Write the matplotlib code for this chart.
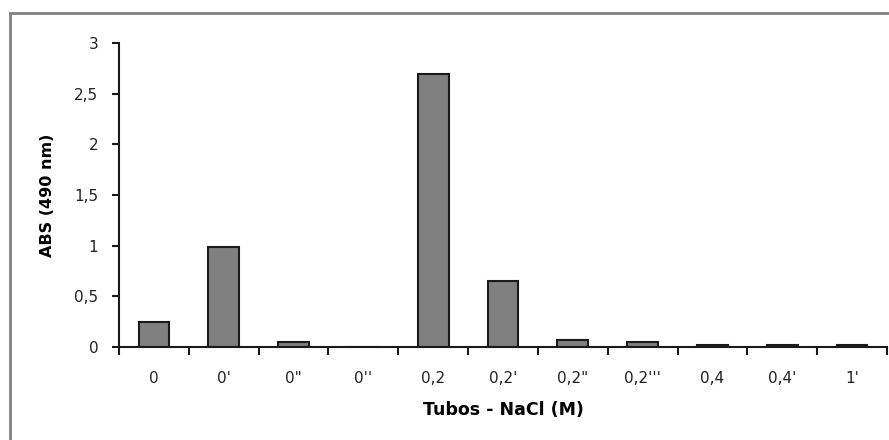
# -*- coding: utf-8 -*-

import matplotlib
matplotlib.use('Agg')
import matplotlib.pyplot as plt
from matplotlib.patches import Rectangle

plt.rcParams['font.family'] = ['DejaVu Sans']

tubos = ['0', "0'", '0"', "0''", '0,2', "0,2'", '0,2"', "0,2'''", '0,4', "0,4'", "1'"]
abs_490 = [0.25, 0.99, 0.05, 0.0, 2.69, 0.65, 0.07, 0.05, 0.02, 0.02, 0.02]
yticks = [0, 0.5, 1, 1.5, 2, 2.5, 3]
ytick_labels = ['0', '0,5', '1', '1,5', '2', '2,5', '3']

fig = plt.figure(figsize=(8.89, 4.4), dpi=100)
fig.patches.append(Rectangle((10 / 889, -0.1), 1.2, 1.1 - 13 / 440,
                             transform=fig.transFigure, fill=False,
                             edgecolor='#808080', linewidth=2, zorder=0))

ax1 = fig.add_axes([119 / 889, 93 / 440, 768 / 889, 304 / 440])
x = list(range(len(tubos)))
ax1.bar(x, abs_490, width=0.44, color='#808080', edgecolor='#1a1a1a', linewidth=1.5)

ax1.set_xlim(-0.5, len(tubos) - 0.5)
ax1.set_ylim(0, 3)
ax1.set_yticks(yticks)
ax1.set_yticklabels(ytick_labels, fontsize=11, color='#222222')
ax1.set_xticks(x)
ax1.set_xticklabels(tubos, fontsize=11, color='#222222')
ax1.tick_params(axis='x', length=0, pad=17)
ax1.set_xticks([i - 0.5 for i in range(len(tubos) + 1)], minor=True)
ax1.tick_params(axis='x', which='minor', length=6, width=1.5, color='#1a1a1a')
ax1.tick_params(axis='y', length=5, width=1.5, color='#1a1a1a', pad=10)

for s in ['top', 'right']:
    ax1.spines[s].set_visible(False)
for s in ['left', 'bottom']:
    ax1.spines[s].set_linewidth(1.5)
    ax1.spines[s].set_color('#1a1a1a')

ax1.set_ylabel('ABS (490 nm)', fontsize=11.5, fontweight='bold', labelpad=14)
ax1.set_xlabel('Tubos - NaCl (M)', fontsize=12.5, fontweight='bold', labelpad=11)

fig.savefig('out.png', dpi=100)
